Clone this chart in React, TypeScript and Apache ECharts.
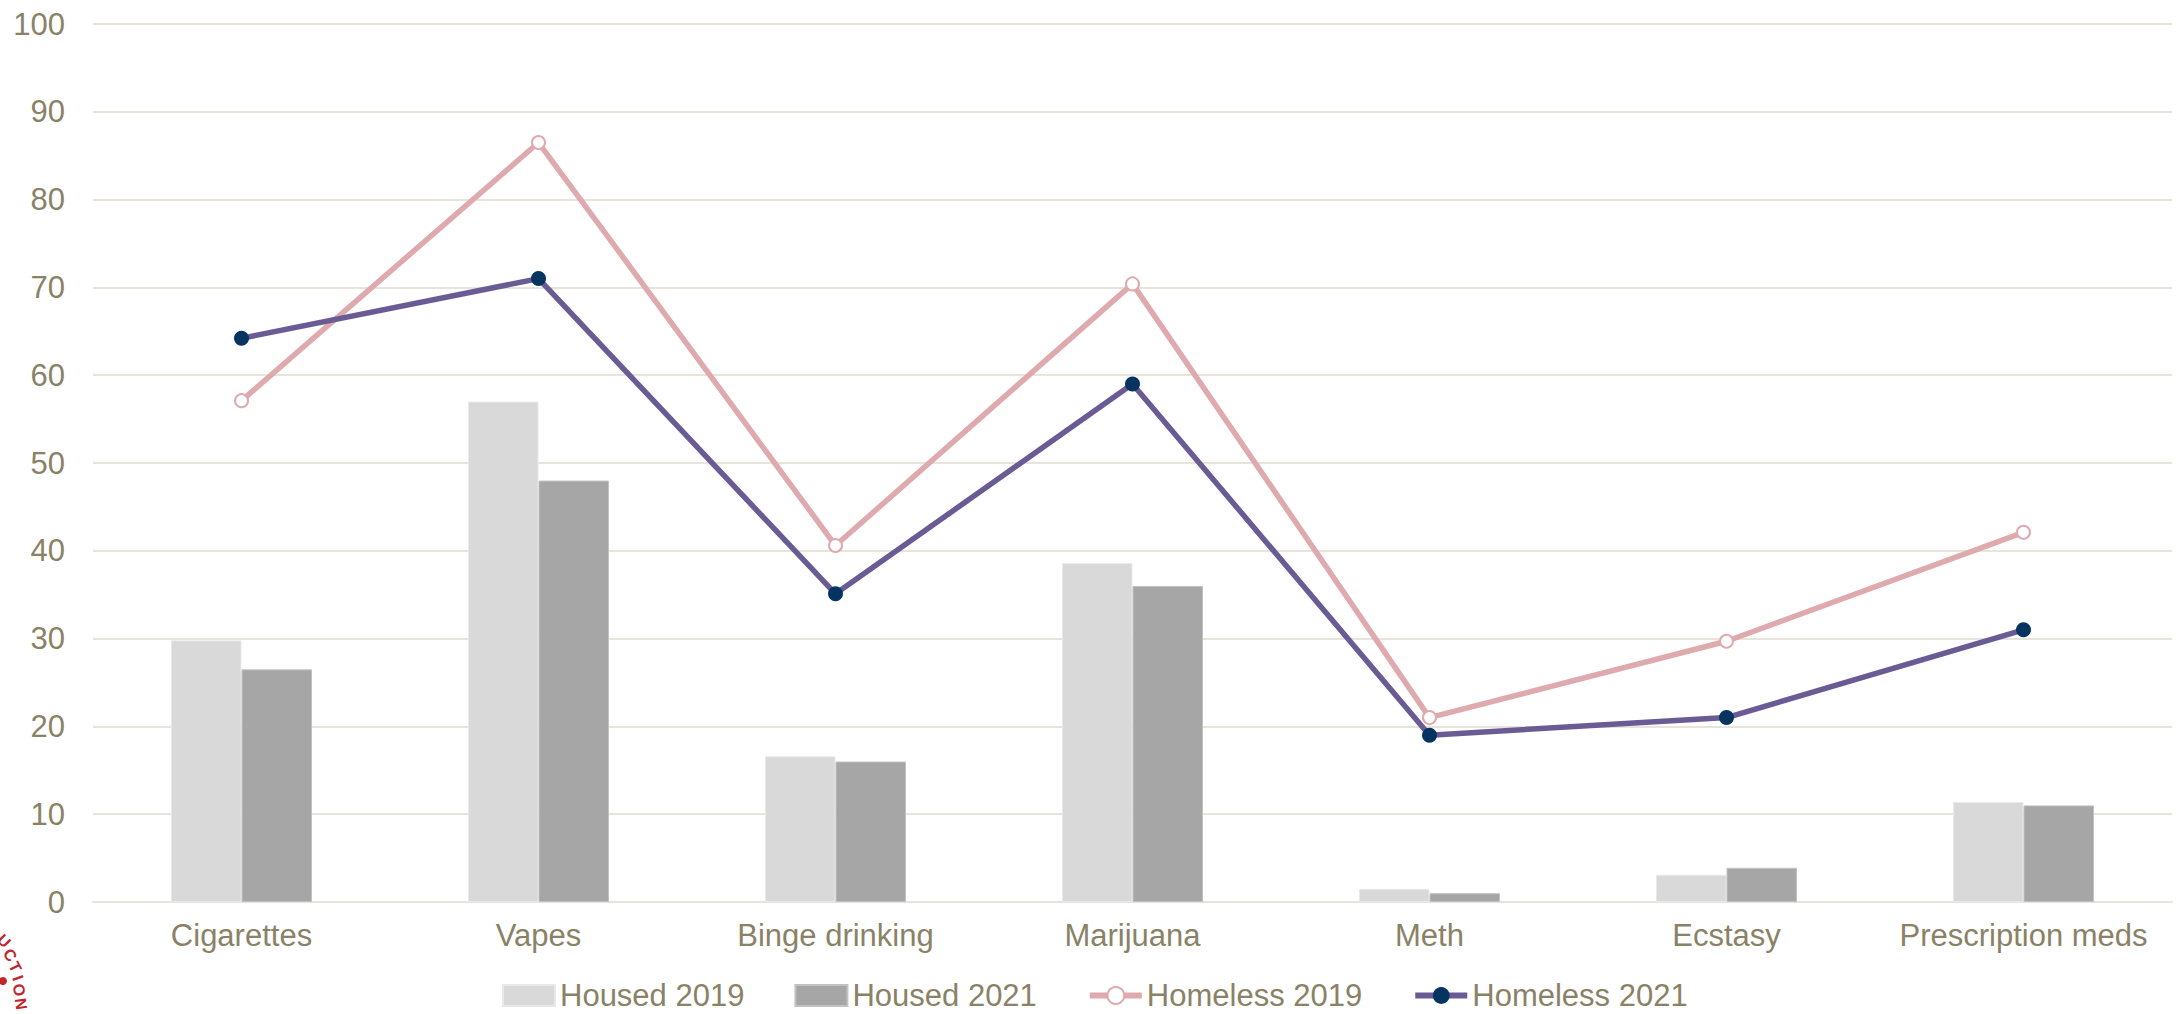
import React, { useEffect, useRef } from "react";
import * as echarts from "echarts";

const categories = ["Cigarettes", "Vapes", "Binge drinking", "Marijuana", "Meth", "Ecstasy", "Prescription meds"];
const housed2019 = [29.8, 57.0, 16.6, 38.6, 1.5, 3.1, 11.4];
const housed2021 = [26.5, 48.0, 16.0, 36.0, 1.0, 3.9, 11.0];
const homeless2019 = [57.1, 86.5, 40.6, 70.4, 21.0, 29.7, 42.1];
const homeless2021 = [64.2, 71.0, 35.1, 59.0, 19.0, 21.0, 31.0];
const yTicks = { min: 0, max: 100, interval: 10 };

const FONT = "'Liberation Sans', Arial, sans-serif";
const LABEL = "#8a8266";
const GRID = "#e8e4dc";

const logoChars = [
  { ch: "U", x: 4, y: 941, r: -45 },
  { ch: "C", x: 10, y: 955, r: -55 },
  { ch: "T", x: 15, y: 967, r: -63 },
  { ch: "I", x: 18, y: 978, r: -70 },
  { ch: "O", x: 19, y: 990, r: -76 },
  { ch: "N", x: 21, y: 1004, r: -82 },
];

export default function App() {
  const ref = useRef<HTMLDivElement>(null);
  useEffect(() => {
    const chart = echarts.init(ref.current!, null, { renderer: "svg" });
    const graphics: any[] = logoChars.map((c) => ({
      type: "text",
      x: c.x,
      y: c.y,
      rotation: (c.r * Math.PI) / 180,
      style: {
        text: c.ch,
        fill: "#c0272d",
        font: `bold 16px ${FONT}`,
        align: "center",
        verticalAlign: "middle",
      },
    }));
    graphics.push({
      type: "circle",
      shape: { cx: 3, cy: 981, r: 4 },
      style: { fill: "#c0272d" },
    });
    chart.setOption({
      animation: false,
      backgroundColor: "#ffffff",
      textStyle: { fontFamily: FONT },
      grid: { left: 93, right: 4, top: 24, bottom: 112, containLabel: false },
      legend: {
        left: 502,
        bottom: 3,
        padding: 0,
        itemWidth: 52,
        itemHeight: 21,
        itemGap: 50,
        textStyle: { color: LABEL, fontSize: 31, fontFamily: FONT, lineHeight: 27 },
        data: [
          { name: "Housed 2019", icon: "rect" },
          { name: "Housed 2021", icon: "rect" },
          { name: "Homeless 2019", lineStyle: { width: 6 } },
          { name: "Homeless 2021", lineStyle: { width: 6 } },
        ],
      },
      xAxis: {
        type: "category",
        data: categories,
        axisLine: { lineStyle: { color: GRID, width: 2 } },
        axisTick: { show: false },
        axisLabel: { color: LABEL, fontSize: 31, fontFamily: FONT, margin: 18, interval: 0 },
      },
      yAxis: {
        type: "value",
        min: yTicks.min,
        max: yTicks.max,
        interval: yTicks.interval,
        axisLine: { show: false },
        axisTick: { show: false },
        splitLine: { lineStyle: { color: GRID, width: 2 } },
        axisLabel: { color: LABEL, fontSize: 31, fontFamily: FONT, margin: 28 },
      },
      series: [
        {
          name: "Housed 2019",
          type: "bar",
          data: housed2019,
          barWidth: 70.5,
          barGap: "0%",
          itemStyle: { color: "#d9d9d9", borderColor: "#e9e9e9", borderWidth: 1 },
        },
        {
          name: "Housed 2021",
          type: "bar",
          data: housed2021,
          barWidth: 70.5,
          barGap: "0%",
          itemStyle: { color: "#a6a6a6", borderColor: "#c2c2c2", borderWidth: 1 },
        },
        {
          name: "Homeless 2019",
          type: "line",
          data: homeless2019,
          symbol: "circle",
          symbolSize: 13,
          lineStyle: { color: "#dfaaad", width: 5.5 },
          itemStyle: { color: "#ffffff", borderColor: "#dfaaad", borderWidth: 2 },
          z: 3,
        },
        {
          name: "Homeless 2021",
          type: "line",
          data: homeless2021,
          symbol: "circle",
          symbolSize: 15,
          lineStyle: { color: "#6b5b95", width: 5.5 },
          itemStyle: { color: "#063461" },
          z: 4,
        },
      ],
      graphic: graphics,
    });
    return () => chart.dispose();
  }, []);
  return (
    <div
      ref={ref}
      style={{ position: "fixed", left: 0, top: 0, width: 2176, height: 1014 }}
    />
  );
}
